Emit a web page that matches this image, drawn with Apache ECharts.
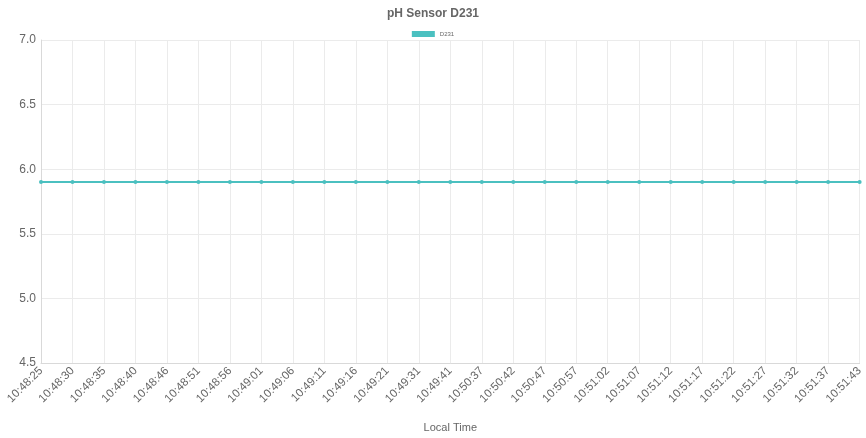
<!DOCTYPE html>
<html>
<head>
<meta charset="utf-8">
<script src="https://cdn.jsdelivr.net/npm/echarts@6/dist/echarts.min.js"></script>
<style>html,body{margin:0;padding:0;background:#fff}#c{width:866px;height:438px}</style>
</head>
<body>
<div id="c"></div>
<script>
var categories = ["10:48:25","10:48:30","10:48:35","10:48:40","10:48:46","10:48:51","10:48:56","10:49:01","10:49:06","10:49:11","10:49:16","10:49:21","10:49:31","10:49:41","10:50:37","10:50:42","10:50:47","10:50:57","10:51:02","10:51:07","10:51:12","10:51:17","10:51:22","10:51:27","10:51:32","10:51:37","10:51:43"];
var d231Values = [5.9,5.9,5.9,5.9,5.9,5.9,5.9,5.9,5.9,5.9,5.9,5.9,5.9,5.9,5.9,5.9,5.9,5.9,5.9,5.9,5.9,5.9,5.9,5.9,5.9,5.9,5.9];
var yTicks = [4.5,5.0,5.5,6.0,6.5,7.0];

var chart = echarts.init(document.getElementById('c'));
chart.setOption({
  animation:false,
  title:{text:'pH Sensor D231',left:'center',top:3,textStyle:{fontFamily:'Liberation Sans, Arial',fontSize:12,fontWeight:'bold',color:'#666'}},
  legend:{data:['D231'],top:26,left:'center',icon:'rect',itemWidth:23,itemHeight:6,itemGap:5,textStyle:{fontFamily:'Liberation Sans, Arial',fontSize:6,color:'#666'}},
  grid:{left:41,right:3,top:40,bottom:71,containLabel:false},
  xAxis:{type:'category',data:categories,boundaryGap:false,
    name:'Local Time',nameLocation:'middle',nameGap:59,
    nameTextStyle:{fontFamily:'Liberation Sans, Arial',fontSize:11,color:'#666'},
    axisLine:{lineStyle:{color:'#d9d9d9'}},axisTick:{show:false},
    axisLabel:{rotate:45,interval:0,margin:6,fontFamily:'Liberation Sans, Arial',fontSize:11.5,color:'#666'},
    splitLine:{show:true,lineStyle:{color:'#ebebeb'}}},
  yAxis:{type:'value',min:yTicks[0],max:yTicks[yTicks.length-1],interval:0.5,
    axisLine:{show:true,lineStyle:{color:'#d9d9d9'}},axisTick:{show:false},
    axisLabel:{margin:5,fontFamily:'Liberation Sans, Arial',fontSize:12,color:'#666',formatter:function(v){return v.toFixed(1);}},
    splitLine:{show:true,lineStyle:{color:'#ebebeb'}}},
  series:[{name:'D231',type:'line',data:d231Values,symbol:'circle',symbolSize:4,
    lineStyle:{color:'#4bc0c0',width:2},itemStyle:{color:'#4bc0c0'}}]
});
</script>
</body>
</html>
